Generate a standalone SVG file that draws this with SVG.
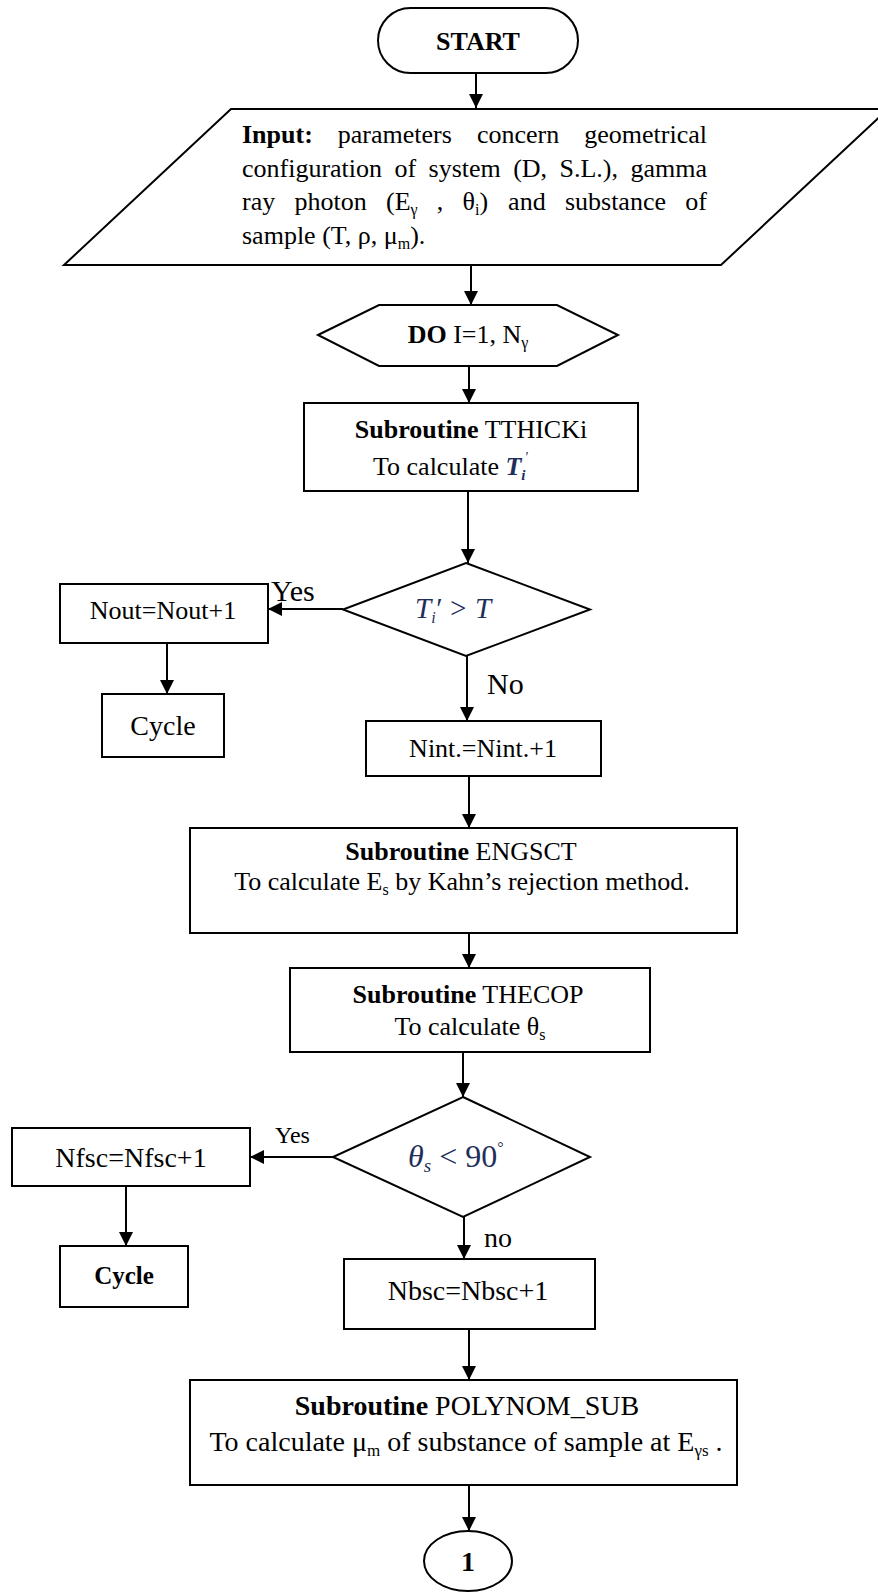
<svg xmlns="http://www.w3.org/2000/svg" width="878" height="1593" viewBox="0 0 878 1593">
<style>
text { font-family: "Liberation Serif", "Times New Roman", serif; fill: #000; font-size: 26px; }
.b { font-weight: bold; }
.mid { text-anchor: middle; }
.shape { fill: #fff; stroke: #000; stroke-width: 2; }
.conn line { stroke: #000; stroke-width: 2; marker-end: url(#arr); }
.math { font-style: italic; fill: #1f2f5c; }
.lbl { font-size: 30px; }
</style>
<defs>
<marker id="arr" markerUnits="userSpaceOnUse" markerWidth="14" markerHeight="14" refX="14" refY="7" orient="auto">
<path d="M0,0 L14,7 L0,14 z" fill="#000"/>
</marker>
</defs>
<rect x="0" y="0" width="878" height="1593" fill="#fff"/>

<g id="connectors" class="conn">
<line x1="476" y1="73" x2="476" y2="108"/>
<line x1="471" y1="265" x2="471" y2="305"/>
<line x1="469" y1="366" x2="469" y2="403"/>
<line x1="468" y1="491" x2="468" y2="563"/>
<line x1="343" y1="609" x2="268" y2="609"/>
<line x1="167" y1="643" x2="167" y2="694"/>
<line x1="467" y1="656" x2="467" y2="721"/>
<line x1="469" y1="776" x2="469" y2="828"/>
<line x1="469" y1="933" x2="469" y2="968"/>
<line x1="463" y1="1052" x2="463" y2="1097"/>
<line x1="333" y1="1157" x2="250" y2="1157"/>
<line x1="126" y1="1186" x2="126" y2="1246"/>
<line x1="464" y1="1217" x2="464" y2="1259"/>
<line x1="469" y1="1329" x2="469" y2="1380"/>
<line x1="469" y1="1485" x2="469" y2="1531"/>
</g>

<g id="labels">
<text class="lbl" x="271" y="601">Yes</text>
<text class="lbl" x="487" y="694">No</text>
<text x="275" y="1143" style="font-size:24px">Yes</text>
<text x="484" y="1247" style="font-size:28px">no</text>
</g>

<g id="start">
<rect class="shape" x="378" y="8" width="200" height="65" rx="32.5" ry="32.5"/>
<text class="b mid" x="478" y="50">START</text>
</g>

<g id="input">
<polygon class="shape" points="231,109 888,109 721,265 64,265"/>
<text y="143"><tspan x="242" class="b">Input:</tspan><tspan x="337.8">parameters</tspan><tspan x="477">concern</tspan><tspan x="584.3">geometrical</tspan></text>
<text y="176.5"><tspan x="242">configuration</tspan><tspan x="394.5">of</tspan><tspan x="428.6">system</tspan><tspan x="513.2">(D,</tspan><tspan x="559.5">S.L.),</tspan><tspan x="630.4">gamma</tspan></text>
<text x="242" y="210">ray</text>
<text x="294.5" y="210">photon</text>
<text x="386" y="210">(E<tspan font-size="16" dy="5">γ</tspan></text>
<text x="436.8" y="210">,</text>
<text x="462.6" y="210">θ<tspan font-size="16" dy="5">i</tspan><tspan dy="-5">)</tspan></text>
<text x="508.1" y="210">and</text>
<text x="564.9" y="210">substance</text>
<text x="685.3" y="210">of</text>
<text x="242" y="243.5">sample (T, ρ, μ<tspan font-size="16" dy="5">m</tspan><tspan dy="-5">).</tspan></text>
</g>

<g id="do-loop">
<polygon class="shape" points="318,335 379,305 557,305 618,335 557,366 379,366"/>
<text class="mid" x="468" y="343"><tspan class="b">DO</tspan> I=1, N<tspan font-size="16" dy="5">γ</tspan></text>
</g>

<g id="tthick">
<rect class="shape" x="304" y="403" width="334" height="88"/>
<text class="mid" x="471" y="438"><tspan class="b">Subroutine</tspan> TTHICKi</text>
<text x="373" y="475">To calculate <tspan class="math b">T</tspan><tspan class="math b" font-size="15" dy="5">i</tspan><tspan class="math" font-size="15" dx="-1" dy="-18">'</tspan></text>
</g>

<g id="dec1">
<polygon class="shape" points="466,563 590,609.5 466,656 343,609.5"/>
<text class="math" x="415" y="618" style="font-size:29px">T<tspan font-size="16" dy="5">i</tspan><tspan dy="-5" dx="-1">′ &gt; T</tspan></text>
</g>

<g id="nout">
<rect class="shape" x="60" y="584" width="208" height="59"/>
<text class="mid" x="163" y="619">Nout=Nout+1</text>
</g>

<g id="cycle1">
<rect class="shape" x="102" y="694" width="122" height="63"/>
<text class="mid" x="163" y="735" style="font-size:28px">Cycle</text>
</g>

<g id="nint">
<rect class="shape" x="366" y="721" width="235" height="55"/>
<text class="mid" x="483" y="757">Nint.=Nint.+1</text>
</g>

<g id="engsct">
<rect class="shape" x="190" y="828" width="547" height="105"/>
<text class="mid" x="461" y="860"><tspan class="b">Subroutine</tspan> ENGSCT</text>
<text class="mid" x="462" y="890">To calculate E<tspan font-size="16" dy="5">s</tspan><tspan dy="-5"> by Kahn’s rejection method.</tspan></text>
</g>

<g id="thecop">
<rect class="shape" x="290" y="968" width="360" height="84"/>
<text class="mid" x="468" y="1003"><tspan class="b">Subroutine</tspan> THECOP</text>
<text class="mid" x="470" y="1035">To calculate θ<tspan font-size="16" dy="5">s</tspan></text>
</g>

<g id="dec2">
<polygon class="shape" points="463,1097 590,1157 463,1217 333,1157"/>
<text class="math" x="408" y="1167" style="font-size:32px">θ<tspan font-size="19" dy="5">s</tspan><tspan dy="-5" style="font-style:normal"> &lt; 90</tspan><tspan style="font-style:normal" font-size="16" dy="-14">°</tspan></text>
</g>

<g id="nfsc">
<rect class="shape" x="12" y="1128" width="238" height="58"/>
<text class="mid" x="131" y="1167" style="font-size:28px">Nfsc=Nfsc+1</text>
</g>

<g id="cycle2">
<rect class="shape" x="60" y="1246" width="128" height="61"/>
<text class="mid b" x="124" y="1284" style="font-size:25px">Cycle</text>
</g>

<g id="nbsc">
<rect class="shape" x="344" y="1259" width="251" height="70"/>
<text class="mid" x="468" y="1300" style="font-size:28px">Nbsc=Nbsc+1</text>
</g>

<g id="polynom">
<rect class="shape" x="190" y="1380" width="547" height="105"/>
<text class="mid" x="467" y="1415" style="font-size:28px"><tspan class="b">Subroutine</tspan> POLYNOM_SUB</text>
<text class="mid" x="466" y="1451" style="font-size:28px">To calculate μ<tspan font-size="17" dy="5">m</tspan><tspan dy="-5"> of substance of sample at E</tspan><tspan font-size="17" dy="5">γs</tspan><tspan dy="-5"> .</tspan></text>
</g>

<g id="connector-1">
<ellipse class="shape" cx="468" cy="1561" rx="44" ry="30"/>
<text class="mid b" x="468" y="1571" style="font-size:28px">1</text>
</g>
</svg>
